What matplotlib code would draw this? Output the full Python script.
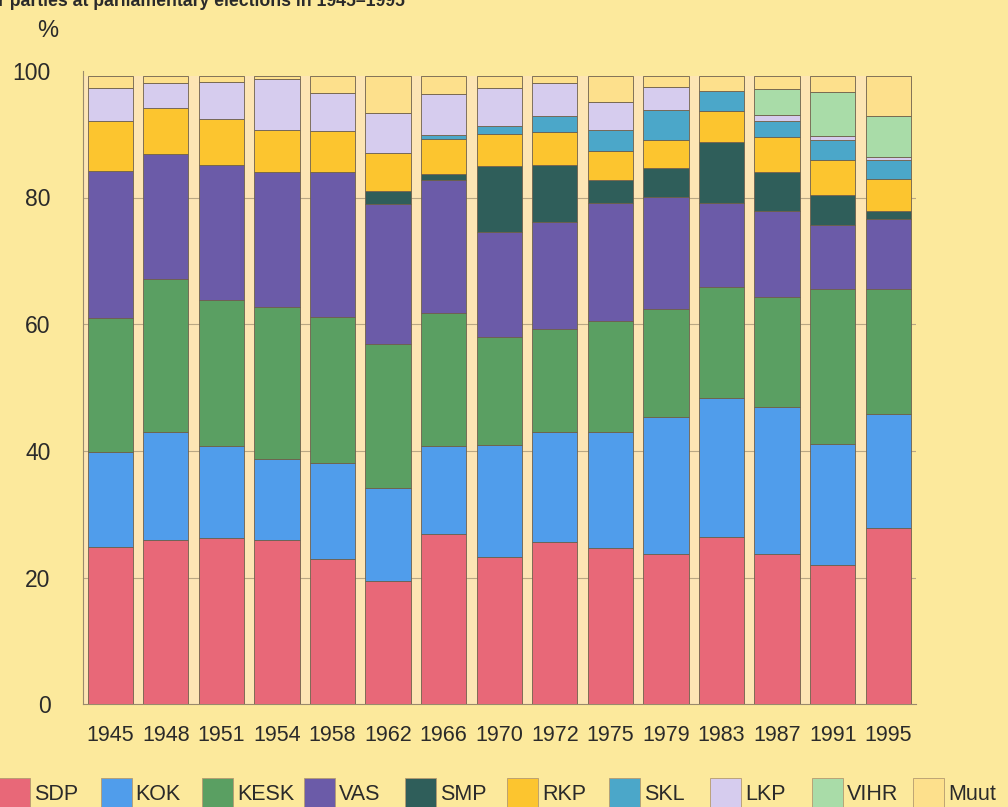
import matplotlib.pyplot as plt
from matplotlib.patches import Rectangle
import numpy as np

plt.rcParams["font.family"] = ["Liberation Sans", "DejaVu Sans"]

years = ["1945", "1948", "1951", "1954", "1958", "1962", "1966", "1970",
         "1972", "1975", "1979", "1983", "1987", "1991", "1995"]

# vote shares (%), stacked bottom -> top
sdp = [24.9, 26.0, 26.2, 25.9, 23.0, 19.5, 26.9, 23.2, 25.6, 24.7, 23.7, 26.4, 23.8, 22.0, 27.9]
kok = [14.9, 17.0, 14.6, 12.8, 15.1, 14.6, 13.8, 17.8, 17.4, 18.3, 21.6, 22.0, 23.1, 19.1, 17.9]
kesk = [21.1, 24.1, 23.0, 24.0, 23.0, 22.8, 21.0, 17.0, 16.3, 17.5, 17.1, 17.5, 17.4, 24.5, 19.7]
vas = [23.3, 19.8, 21.4, 21.3, 22.9, 22.0, 21.0, 16.5, 16.8, 18.6, 17.7, 13.3, 13.5, 10.1, 11.1]
smp = [0, 0, 0, 0, 0, 2.2, 1.0, 10.4, 9.1, 3.7, 4.5, 9.6, 6.2, 4.7, 1.3]
rkp = [7.9, 7.3, 7.2, 6.7, 6.5, 6.0, 5.6, 5.2, 5.2, 4.6, 4.4, 4.9, 5.5, 5.5, 5.0]
skl = [0, 0, 0, 0, 0, 0, 0.6, 1.2, 2.4, 3.3, 4.8, 3.1, 2.6, 3.1, 3.0]
lkp = [5.2, 3.9, 5.8, 8.0, 6.0, 6.2, 6.5, 6.0, 5.3, 4.3, 3.7, 0, 1.0, 0.7, 0.5]
vihr = [0, 0, 0, 0, 0, 0, 0, 0, 0, 0, 0, 0, 4.1, 6.9, 6.5]
muut = [1.9, 1.1, 1.0, 0.5, 2.7, 5.9, 2.8, 1.9, 1.1, 4.2, 1.7, 2.4, 2.0, 2.6, 6.3]

parties = ["SDP", "KOK", "KESK", "VAS", "SMP", "RKP", "SKL", "LKP", "VIHR", "Muut"]
series = [sdp, kok, kesk, vas, smp, rkp, skl, lkp, vihr, muut]
colors = ["#e86878", "#509deb", "#5a9f62", "#6b5ba8", "#2f5e5a",
          "#fcc52f", "#4ba7c9", "#d6ccee", "#a9dca8", "#fde08c"]

BG = "#fce99c"
CREAM = "#fde5b4"
EDGE = "#6e604c"
TXT = "#2a2a2a"

W, H = 1008, 807


def fx(px):
    return px / W


def fy(py):
    return 1 - py / H


fig = plt.figure(figsize=(W / 100, H / 100), dpi=100)
fig.patch.set_facecolor(BG)

ax = fig.add_axes([fx(82.5), fy(704.3), fx(916) - fx(82.5), fy(70.8) - fy(704.3)])
ax.set_facecolor("none")

x = np.arange(len(years))
width = 0.815
totals = np.sum(np.array(series), axis=0)

# cream panel behind the columns
ax.add_patch(Rectangle((-0.5, 0), len(years) - 1 + width / 2 + 0.5, totals.max(),
                       facecolor=CREAM, edgecolor="none", zorder=0))

for yv in [20, 40, 60, 80]:
    ax.axhline(yv, color="#b9a784", lw=0.8, zorder=1)

bottom = np.zeros(len(years))
for vals, col in zip(series, colors):
    vals = np.array(vals, dtype=float)
    m = vals > 0
    ax.bar(x[m], vals[m], bottom=bottom[m], width=width, color=col,
           edgecolor=EDGE, linewidth=0.6, zorder=3)
    bottom += vals

ax.set_xlim(-0.5, len(years) - 0.5)
ax.set_ylim(0, 100)
ax.set_yticks([0, 20, 40, 60, 80, 100])
ax.set_xticks(x)
ax.set_xticklabels(years)
ax.tick_params(axis="y", length=0, pad=23, labelsize=16.5, labelcolor=TXT)
ax.tick_params(axis="x", length=0, pad=15, labelsize=15.5, labelcolor=TXT)
for s in ["top", "right"]:
    ax.spines[s].set_visible(False)
for s in ["left", "bottom"]:
    ax.spines[s].set_color("#9a8a6c")
    ax.spines[s].set_linewidth(0.8)

fig.text(fx(48), fy(31), "%", fontsize=17, color=TXT, ha="center", va="center")

fig.text(fx(-2), fy(6), "r parties at parliamentary elections in 1945\u20131995",
         fontsize=12.7, fontweight="bold", color=TXT, ha="left", va="baseline")

# legend row
pitch = 101.6
for i, (name, col) in enumerate(zip(parties, colors)):
    left = i * pitch - 1
    fig.patches.append(Rectangle((fx(left), 0), fx(31), fy(778),
                                 transform=fig.transFigure, facecolor=col,
                                 edgecolor="#b49a70", linewidth=0.6))
    fig.text(fx(left + 35), fy(794), name, fontsize=15.5, color=TXT,
             ha="left", va="center")

fig.savefig("out.png", dpi=100, facecolor=BG)
